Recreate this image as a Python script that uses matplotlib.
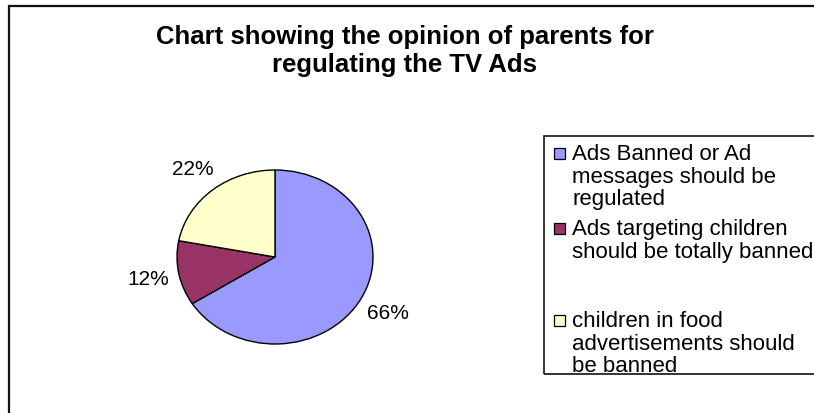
import matplotlib
matplotlib.use("Agg")
import matplotlib.pyplot as plt
from matplotlib.patches import Rectangle

# Survey result: share of parents per opinion (%)
categories = [
    "Ads Banned or Ad\nmessages should be\nregulated",
    "Ads targeting children\nshould be totally banned",
    "children in food\nadvertisements should\nbe banned",
]
shares = [66, 12, 22]
colors = ["#9999FF", "#993366", "#FFFFCC"]
title_lines = ["Chart showing the opinion of parents for", "regulating the TV Ads"]

# first-line pixel row of each legend entry
legend_rows = [155, 230, 322]

W, H = 814, 414
fig = plt.figure(figsize=(W / 100, H / 100), dpi=100)
fig.patch.set_facecolor("white")
plt.rcParams["font.family"] = ["Liberation Sans", "DejaVu Sans"]


def fx(x):
    return x / W


def fy(y):
    return 1 - y / H


# chart-area frame (continues past the right and bottom edges)
fig.patches.append(Rectangle((fx(9), fy(430)), fx(840) - fx(9), fy(7) - fy(430),
                             transform=fig.transFigure, fill=False,
                             edgecolor="#111111", linewidth=1.6))

# title
for i, ln in enumerate(title_lines):
    fig.text(fx(405), fy(37 + i * 28), ln, ha="center", va="center",
             fontsize=18.5, fontweight="bold")

# pie: elliptical, radius 98 px horizontally and 87 px vertically
cx, cy, rx, ry = 275, 258, 98, 87
lim = 1.2
ax = fig.add_axes([fx(cx - lim * rx), fy(cy + lim * ry),
                   2 * lim * rx / W, 2 * lim * ry / H])
wedges, _, autotexts = ax.pie(
    shares, colors=colors, startangle=90, counterclock=False,
    autopct="%1.0f%%", pctdistance=1.32,
    wedgeprops=dict(edgecolor="black", linewidth=1.0),
    textprops=dict(fontsize=15, color="black"),
)
ax.set_aspect("auto")
ax.set_xlim(-lim, lim)
ax.set_ylim(-lim, lim)
ax.axis("off")
for t in autotexts:
    t.set_ha("center")
    t.set_va("center")

# legend box
lx0, ly0, lx1, ly1 = 544, 137, 840, 375
fig.patches.append(Rectangle((fx(lx0), fy(ly1)), fx(lx1) - fx(lx0), fy(ly0) - fy(ly1),
                             transform=fig.transFigure, fill=False,
                             edgecolor="#111111", linewidth=1.2))
line_h = 22.5
for cat, col, y in zip(categories, colors, legend_rows):
    fig.patches.append(Rectangle((fx(554), fy(y + 5)), 11 / W, 11 / H,
                                 transform=fig.transFigure, facecolor=col,
                                 edgecolor="black", linewidth=0.9))
    for i, ln in enumerate(cat.split("\n")):
        fig.text(fx(572), fy(y + i * line_h), ln, ha="left", va="center",
                 fontsize=16)

fig.savefig("out.png", dpi=100, facecolor="white")
